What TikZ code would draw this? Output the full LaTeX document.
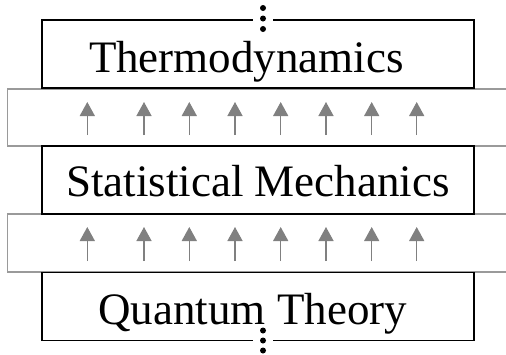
\documentclass[tikz,border=0pt]{standalone}
\usepackage{fontspec}
\setmainfont{Liberation Serif}
\usetikzlibrary{arrows.meta}
\definecolor{bandgray}{HTML}{9A9A9A}
\definecolor{arrowgray}{HTML}{808080}
\tikzset{
  layerbox/.style={draw=black, line width=1.3pt, fill=white, rectangle, minimum width=432pt, minimum height=68pt, inner sep=0pt, outer sep=0pt},
  layertext/.style={anchor=base west, inner sep=0pt, outer sep=0pt, font=\fontsize{45}{54}\selectfont},
  bandline/.style={draw=bandgray, line width=1.5pt},
  uparrow/.style={draw=arrowgray, line width=1.4pt, -{Triangle[length=14pt,width=15pt]}},
  dotmark/.style={circle, fill=black, inner sep=0pt, minimum size=6pt},
  gapfill/.style={fill=white, draw=none, rectangle, inner sep=0pt, minimum width=20pt, minimum height=4pt}
}
\begin{document}
\begin{tikzpicture}[x=1pt,y=-1pt]
\useasboundingbox (0,0) rectangle (506,354);
% gray bands (open to the right)
\draw[bandline] (507,89) -- (7.5,89) -- (7.5,146) -- (507,146);
\draw[bandline] (507,214) -- (7.5,214) -- (7.5,272) -- (507,272);
% boxes
\node[layerbox] (thermo) at (258,54) {};
\node[layerbox] (stat) at (258,180) {};
\node[layerbox] (quant) at (258,306.5) {};
\node[layertext] (thermoT) at (89,72.7) {Thermodynamics};
\node[layertext] (statT) at (66,196) {Statistical Mechanics};
\node[layertext] (quantT) at (98.5,324.3) {Quantum Theory};
% arrows
\foreach \i/\x in {1/87.3,2/144,3/189.3,4/235,5/280.7,6/326,7/371.7,8/416.7}{
  \coordinate (a\i s) at (\x,135);
  \coordinate (a\i e) at (\x,102);
  \coordinate (b\i s) at (\x,261);
  \coordinate (b\i e) at (\x,227);
  \draw[uparrow] (a\i s) -- (a\i e);
  \draw[uparrow] (b\i s) -- (b\i e);
}
% continuation dots
\node[gapfill] (gaptop) at (263,20) {};
\node[gapfill] (gapbot) at (263,340.5) {};
\node[dotmark] (td1) at (263,8) {};
\node[dotmark] (td2) at (263,18.5) {};
\node[dotmark] (td3) at (263,29) {};
\node[dotmark] (bd1) at (263,330.5) {};
\node[dotmark] (bd2) at (263,340.5) {};
\node[dotmark] (bd3) at (263,350.5) {};
\end{tikzpicture}
\end{document}
